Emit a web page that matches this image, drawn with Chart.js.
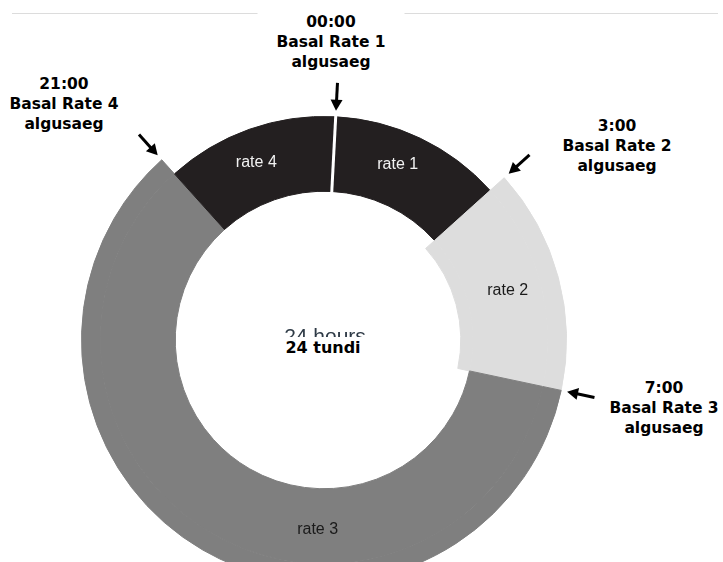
<!DOCTYPE html>
<html>
<head>
<meta charset="utf-8">
<script src="https://cdn.jsdelivr.net/npm/chart.js@4"></script>
<style>
  body { margin: 0; background: #fff; overflow: hidden; width: 723px; height: 562px; position: relative; }
  #wrap { position: absolute; left: 0; top: 0; width: 723px; height: 700px; }
  .rule { position: absolute; top: 13px; left: 12px; width: 706px; height: 1px; background: #dcdcdc; }
  .note { position: absolute; transform: translateX(-50%); text-align: center; white-space: nowrap;
          font-family: "DejaVu Sans", Verdana, sans-serif; font-weight: bold; font-size: 15.5px;
          line-height: 20px; color: #000; background: #fff; padding: 0 4px; }
  #centerNote { position: absolute; left: 268px; top: 337px; width: 110px; height: 22px; background: #fff;
          text-align: center; font-family: "DejaVu Sans", sans-serif; font-weight: bold; font-size: 16px;
          line-height: 22px; color: #000; }
</style>
</head>
<body>
<div class="rule"></div>
<div id="wrap"><canvas id="ring"></canvas></div>
<div id="centerNote">24 tundi</div>

<script>
// hours covered by each basal rate
const hours = [3, 3.6, 14.4, 3];
const rateLabels = ['rate 1', 'rate 2', 'rate 3', 'rate 4'];
const startTimes = ['00:00', '3:00', '7:00', '21:00'];
const rateNames = ['Basal Rate 1', 'Basal Rate 2', 'Basal Rate 3', 'Basal Rate 4'];
const noteWord = 'algusaeg';
const centerText = '24 hours';

const dark = '#231f20';
const light = '#dddddd';
const mid = '#7f7f7f';

// note boxes (centre x, top y) for each start time
const notePos = [[331, 12], [617, 116], [664, 378], [64, 74]];
startTimes.forEach((t, i) => {
  const d = document.createElement('div');
  d.className = 'note';
  d.style.left = notePos[i][0] + 'px';
  d.style.top = notePos[i][1] + 'px';
  if (i === 0) d.style.width = '139px';
  d.innerHTML = t + '<br>' + rateNames[i] + '<br>' + noteWord;
  document.body.appendChild(d);
});

function drawArrow(ctx, x0, y0, x1, y1) {
  const ang = Math.atan2(y1 - y0, x1 - x0);
  const head = 11, half = 6;
  ctx.strokeStyle = '#000';
  ctx.fillStyle = '#000';
  ctx.lineWidth = 3;
  ctx.beginPath();
  ctx.moveTo(x0, y0);
  ctx.lineTo(x1 - (head - 2) * Math.cos(ang), y1 - (head - 2) * Math.sin(ang));
  ctx.stroke();
  ctx.beginPath();
  ctx.moveTo(x1, y1);
  ctx.lineTo(x1 - head * Math.cos(ang) - half * Math.sin(ang), y1 - head * Math.sin(ang) + half * Math.cos(ang));
  ctx.lineTo(x1 - head * Math.cos(ang) + half * Math.sin(ang), y1 - head * Math.sin(ang) - half * Math.cos(ang));
  ctx.closePath();
  ctx.fill();
}

const ringDecor = {
  id: 'ringDecor',
  afterDatasetsDraw(chart, args, opts) {
    const ctx = chart.ctx;
    const outer = chart.getDatasetMeta(0).data;
    const body = chart.getDatasetMeta(1).data;
    const outerColors = chart.data.datasets[0].backgroundColor;
    const cx = body[0].x, cy = body[0].y;
    ctx.save();

    // white cut at midnight
    const a0 = body[0].startAngle;
    ctx.strokeStyle = '#fff';
    ctx.lineWidth = 3;
    ctx.beginPath();
    ctx.moveTo(cx + (body[0].innerRadius - 1) * Math.cos(a0), cy + (body[0].innerRadius - 1) * Math.sin(a0));
    ctx.lineTo(cx + (body[0].outerRadius + 1) * Math.cos(a0), cy + (body[0].outerRadius + 1) * Math.sin(a0));
    ctx.stroke();

    // segment labels
    ctx.font = '16px "Liberation Sans", Arial, sans-serif';
    ctx.textAlign = 'center';
    ctx.textBaseline = 'middle';
    body.forEach((arc, i) => {
      const a = arc.startAngle + opts.labelPos[i] * (arc.endAngle - arc.startAngle);
      const r = (arc.innerRadius + arc.outerRadius) / 2 + 4;
      ctx.fillStyle = chart.data.datasets[1].backgroundColor[i] === dark ? '#f2f2f2' : '#1a1a1a';
      ctx.fillText(chart.data.labels[i], cx + r * Math.cos(a), cy + r * Math.sin(a));
    });

    // centre text
    ctx.font = '21px "Liberation Sans", Arial, sans-serif';
    ctx.fillStyle = '#2e3a46';
    ctx.textBaseline = 'alphabetic';
    ctx.fillText(centerText, cx + 1, cy + 3);

    // arrows at each start time
    const segOuter = i => outerColors[i] === 'transparent' ? body[i].outerRadius : outer[i].outerRadius;
    body.forEach((arc, i) => {
      const prev = (i + body.length - 1) % body.length;
      const a = arc.startAngle;
      const r0 = Math.max(segOuter(i), segOuter(prev)) + 6;
      const r1 = r0 + 28;
      drawArrow(ctx, cx + r1 * Math.cos(a), cy + r1 * Math.sin(a), cx + r0 * Math.cos(a), cy + r0 * Math.sin(a));
    });
    ctx.restore();
  }
};

function ring(colors, weight) {
  return {
    data: hours,
    backgroundColor: colors,
    borderColor: colors,
    borderWidth: 1,
    hoverBorderWidth: 0,
    hoverOffset: 0,
    weight: weight
  };
}

const config = {
  type: 'doughnut',
  data: {
    labels: rateLabels,
    datasets: [
      ring(['transparent', light, mid, 'transparent'], 19),
      ring([dark, light, mid, dark], 75),
      ring(['transparent', light, 'transparent', 'transparent'], 12)
    ]
  },
  options: {
    responsive: true,
    maintainAspectRatio: false,
    animation: false,
    events: [],
    rotation: 3,
    cutout: '56.4%',
    layout: { padding: { left: 81, right: 156, top: 97, bottom: 117 } },
    plugins: {
      legend: { display: false },
      tooltip: { enabled: false },
      ringDecor: { labelPos: [0.44, 0.5, 0.37, 0.47] }
    }
  },
  plugins: [ringDecor]
};

window.onload = function () {
  const ctx = document.getElementById('ring').getContext('2d');
  new Chart(ctx, config);
};
</script>
</body>
</html>
